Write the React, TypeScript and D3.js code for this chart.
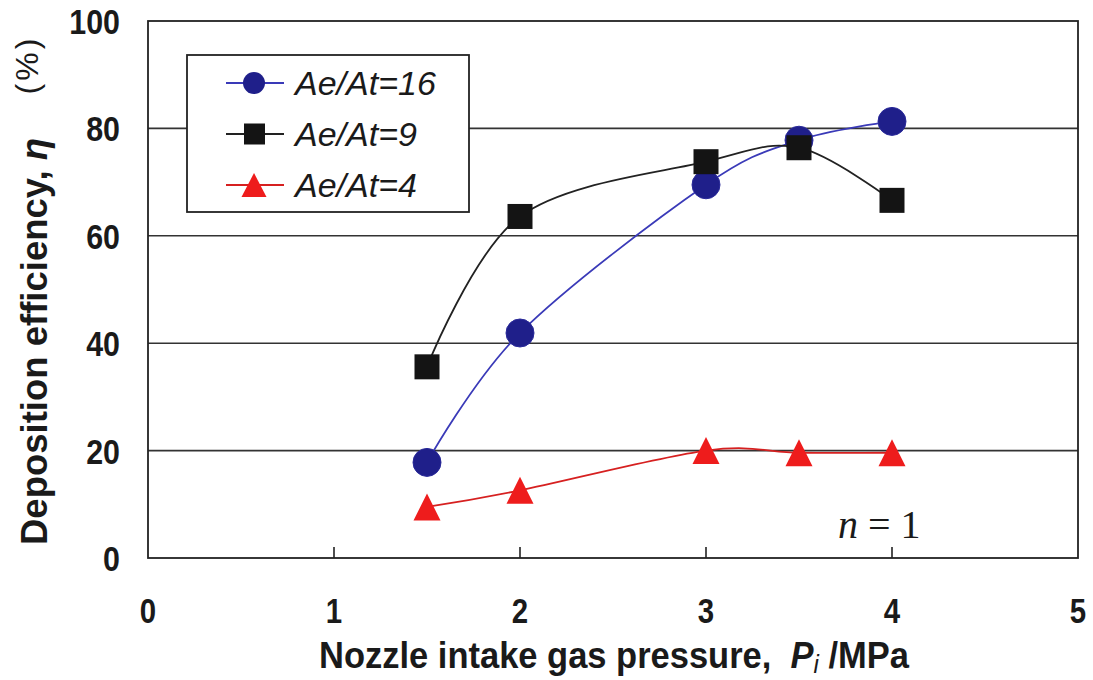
import React from "react";
import * as d3 from "d3";

const pressures = [1.5, 2, 3, 3.5, 4];
const eff16 = [17.8, 41.9, 69.5, 77.8, 81.3];
const eff9 = [35.6, 63.6, 73.8, 76.4, 66.6];
const eff4 = [9.5, 12.6, 20, 19.6, 19.6];
const xTicks = [0, 1, 2, 3, 4, 5];
const yTicks = [0, 20, 40, 60, 80, 100];
const gridValues = [20, 40, 60, 80];
const seriesNames = ["Ae/At=16", "Ae/At=9", "Ae/At=4"];

const W = 1093;
const H = 680;
const left = 148;
const right = 1078;
const top = 21;
const bottom = 558;

const FONT = "'Liberation Sans', Arial, sans-serif";

export default function App() {
  const x = d3.scaleLinear().domain([0, 5]).range([left, right]);
  const y = d3.scaleLinear().domain([0, 100]).range([bottom, top]);
  const line = d3
    .line<[number, number]>()
    .x((d) => x(d[0]))
    .y((d) => y(d[1]))
    .curve(d3.curveCardinal.tension(0));

  const pts = (vals: number[]) => pressures.map((p, i) => [p, vals[i]] as [number, number]);

  const blueLine = "#3a3ab8";
  const blueFill = "#1f1f8a";
  const blackLine = "#222";
  const blackFill = "#141414";
  const redLine = "#d62020";
  const redFill = "#ee1c1c";

  const tri = (cx: number, cy: number, w: number, h: number) =>
    `M${cx},${cy - h / 2}L${cx + w / 2},${cy + h / 2}L${cx - w / 2},${cy + h / 2}Z`;

  const legendRows = [83, 134, 185];

  return (
    <svg width={W} height={H} style={{ display: "block", position: "absolute", left: 0, top: 0, background: "#fff" }}>
      <rect x={0} y={0} width={W} height={H} fill="#fff" />
      {/* gridlines */}
      {gridValues.map((v) => (
        <line key={v} x1={left} x2={right} y1={y(v)} y2={y(v)} stroke="#333" strokeWidth={1.6} />
      ))}
      {/* frame */}
      <rect x={left} y={top} width={right - left} height={bottom - top} fill="none" stroke="#222" strokeWidth={1.8} />
      {/* x ticks inward */}
      {xTicks.slice(1, 5).map((t) => (
        <line key={t} x1={x(t)} x2={x(t)} y1={bottom} y2={bottom - 11} stroke="#222" strokeWidth={1.6} />
      ))}
      {/* y tick labels */}
      {yTicks.map((t) => (
        <text key={t} transform={`translate(120,${y(t) + 13}) scale(0.95,1.1)`} textAnchor="end" fontFamily={FONT} fontWeight="bold" fontSize={32} fill="#1a1a1a">
          {t}
        </text>
      ))}
      {/* x tick labels */}
      {xTicks.map((t) => (
        <text key={t} transform={`translate(${x(t)},623) scale(0.92,1.1)`} textAnchor="middle" fontFamily={FONT} fontWeight="bold" fontSize={32} fill="#1a1a1a">
          {t}
        </text>
      ))}
      {/* x title */}
      <text transform="translate(614,668) scale(1,1.08)" textAnchor="middle" fontFamily={FONT} fontWeight="bold" fontSize={34.5} fill="#1a1a1a">
        Nozzle intake gas pressure,{"\u00a0\u00a0"}
        <tspan fontStyle="italic">P</tspan>
        <tspan fontStyle="italic" fontWeight="normal" fontSize={24} dy={5}>i</tspan>
        <tspan dy={-5}>{"\u00a0"}/MPa</tspan>
      </text>
      {/* y title */}
      <text transform="translate(47,545) rotate(-90)" textAnchor="start" fontFamily={FONT} fontWeight="bold" fontSize={36.5} fill="#1a1a1a">
        Deposition efficiency,{" "}
        <tspan fontStyle="italic">η</tspan>
      </text>
      <text transform="translate(38,65) rotate(-90)" textAnchor="middle" fontFamily={FONT} fontSize={32} letterSpacing={3} fill="#1a1a1a">
        (%)
      </text>

      {/* series: blue */}
      <path d={line(pts(eff16)) || ""} fill="none" stroke={blueLine} strokeWidth={1.8} />
      {pts(eff16).map(([p, v], i) => (
        <circle key={"c" + i} cx={x(p)} cy={y(v)} r={14} fill={blueFill} stroke="#2a2a9a" strokeWidth={1} />
      ))}
      {/* series: black */}
      <path d={line(pts(eff9)) || ""} fill="none" stroke={blackLine} strokeWidth={1.8} />
      {pts(eff9).map(([p, v], i) => (
        <rect key={"s" + i} x={x(p) - 12.5} y={y(v) - 12.5} width={25} height={25} fill={blackFill} />
      ))}
      {/* series: red */}
      <path d={line(pts(eff4)) || ""} fill="none" stroke={redLine} strokeWidth={1.8} />
      {pts(eff4).map(([p, v], i) => (
        <path key={"t" + i} d={tri(x(p), y(v), 27, 27)} fill={redFill} />
      ))}

      {/* legend */}
      <rect x={187} y={55} width={282} height={157} fill="#fff" stroke="#222" strokeWidth={1.8} />
      <line x1={226} x2={284} y1={legendRows[0]} y2={legendRows[0]} stroke={blueLine} strokeWidth={1.8} />
      <circle cx={254} cy={legendRows[0]} r={11} fill={blueFill} />
      <line x1={226} x2={284} y1={legendRows[1]} y2={legendRows[1]} stroke={blackLine} strokeWidth={1.8} />
      <rect x={244} y={legendRows[1] - 10.5} width={21} height={21} fill={blackFill} />
      <line x1={226} x2={284} y1={legendRows[2]} y2={legendRows[2]} stroke={redLine} strokeWidth={1.8} />
      <path d={tri(254, legendRows[2], 25, 24)} fill={redFill} />
      {seriesNames.map((s, i) => (
        <text key={s} x={295} y={legendRows[i] + 12} fontFamily={FONT} fontStyle="italic" fontSize={34} fill="#1a1a1a">
          {s}
        </text>
      ))}

      {/* n = 1 */}
      <text x={838} y={538} fontFamily="'Liberation Serif', 'Times New Roman', serif" fontSize={40} fill="#1a1a1a">
        <tspan fontStyle="italic">n</tspan>
        <tspan>{" = 1"}</tspan>
      </text>
    </svg>
  );
}
